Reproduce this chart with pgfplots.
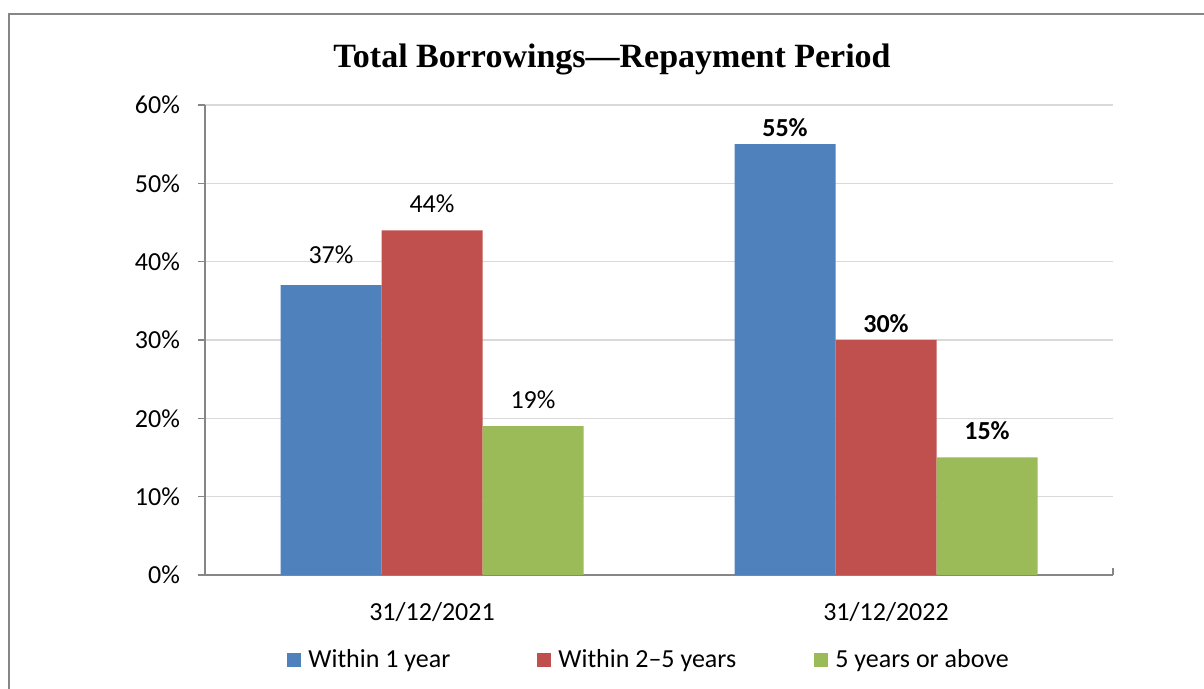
\documentclass[border=0pt]{standalone}
\usepackage{pgfplots}
\pgfplotsset{compat=1.18}
\usepackage{pgfplotstable}
\usepackage{fontspec}
\setmainfont{Carlito}
\newfontfamily\titlefont{Liberation Serif}
\definecolor{cblue}{HTML}{4F81BD}
\definecolor{cred}{HTML}{C0504D}
\definecolor{cgreen}{HTML}{9BBB59}
\definecolor{gridc}{HTML}{D9D9D9}
\definecolor{axc}{HTML}{868686}
\pgfplotstableread{
x y b sh
0 37 0 15.1
1 55 1 8.3
}\tA
\pgfplotstableread{
x y b sh
0 44 0 13.1
1 30 1 8.0
}\tB
\pgfplotstableread{
x y b sh
0 19 0 13.0
1 15 1 13.2
}\tC
\begin{document}
\begin{tikzpicture}
\useasboundingbox (0,0) rectangle (602pt,344.5pt);
\draw[axc, line width=1pt] (4.5pt,-2pt) -- (4.5pt,337.5pt) -- (604pt,337.5pt);
\node[anchor=base, font=\titlefont\bfseries\fontsize{17}{20}\selectfont] at (306pt,310.5pt) {Total Borrowings—Repayment Period};
\begin{axis}[
  at={(102.5pt,57pt)}, anchor=south west,
  scale only axis, width=454pt, height=235pt,
  ybar, bar width=50.5pt,
  xmin=-0.5, xmax=1.5, ymin=0, ymax=60,
  xtick={0,1}, xticklabels={31/12/2021,31/12/2022},
  extra x ticks={1.5}, extra x tick labels={},
  ytick={0,10,20,30,40,50,60},
  yticklabel={\pgfmathprintnumber{\tick}\%},
  /pgf/number format/assume math mode=true,
  ymajorgrids,
  grid style={draw=gridc, line width=0.7pt},
  axis x line*=bottom, axis y line*=left,
  axis line style={draw=axc, line width=0.8pt},
  xtick align=inside, ytick align=outside,
  major tick length=3.5pt,
  tick style={draw=axc, line width=0.8pt},
  ticklabel style={font=\fontsize{13}{15}\selectfont, text=black},
  yticklabel style={xshift=-5.5pt},
  xticklabel style={yshift=-10pt},
  visualization depends on={\thisrow{b} \as \labbold},
  visualization depends on={\thisrow{sh} \as \labshift},
  nodes near coords={\ifdim\labbold pt>0.5pt\bfseries\fi\pgfmathprintnumber{\pgfplotspointmeta}\%},
  every node near coord/.append style={anchor=center, yshift=\labshift pt, font=\fontsize{13}{15}\selectfont, text=black},
  legend style={draw=none, at={(0.488,-0.181)}, anchor=center,
    font=\fontsize{13}{15}\selectfont,
    column sep=0pt,
    /tikz/every odd column/.append style={column sep=3.5pt},
    nodes={inner sep=0pt, anchor=west}},
  legend columns=3,
  legend image code/.code={\fill[#1] (0pt,-3.5pt) rectangle (7pt,3.5pt);},
]
\addplot[fill=cblue, draw=none, bar shift=-50.5pt] table[x=x,y=y] {\tA};
\addplot[fill=cred, draw=none, bar shift=0pt] table[x=x,y=y] {\tB};
\addplot[fill=cgreen, draw=none, bar shift=50.5pt] table[x=x,y=y] {\tC};
\legend{\makebox[114.5pt][l]{Within 1 year},\makebox[128pt][l]{Within 2–5 years},5 years or above}
\end{axis}
\end{tikzpicture}
\end{document}
